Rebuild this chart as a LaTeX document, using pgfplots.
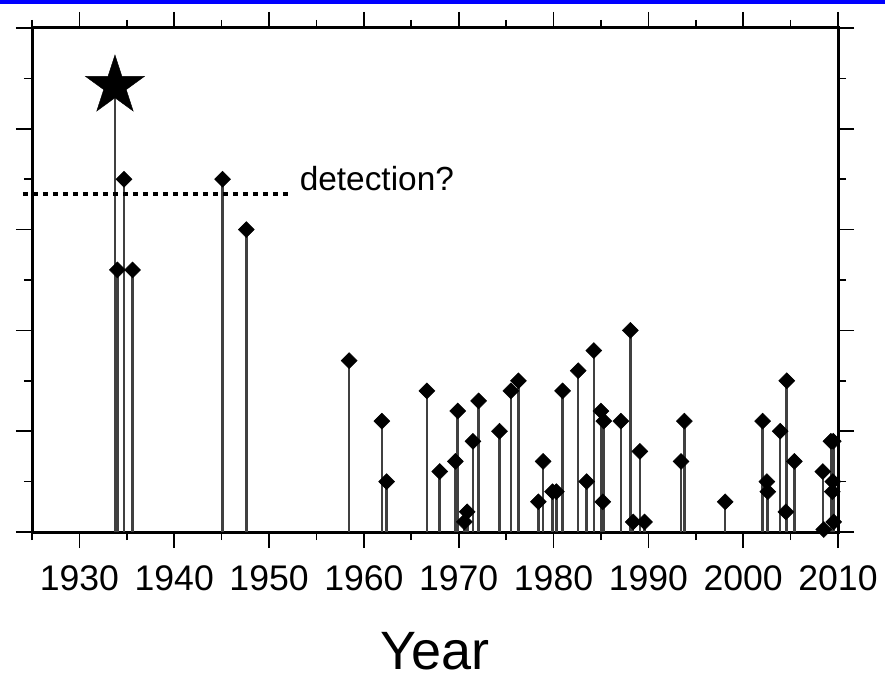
\documentclass[border=0pt]{standalone}
\usepackage{fontspec}
\setmainfont{Liberation Sans}
\usepackage{pgfplots}
\pgfplotsset{compat=1.18}

% filled five-pointed star for the big event
\pgfdeclareplotmark{bigstar}{%
  \pgfpathmoveto{\pgfpointpolar{90}{\pgfplotmarksize}}%
  \pgfpathlineto{\pgfpointpolar{126}{0.382\pgfplotmarksize}}%
  \pgfpathlineto{\pgfpointpolar{162}{\pgfplotmarksize}}%
  \pgfpathlineto{\pgfpointpolar{198}{0.382\pgfplotmarksize}}%
  \pgfpathlineto{\pgfpointpolar{234}{\pgfplotmarksize}}%
  \pgfpathlineto{\pgfpointpolar{270}{0.382\pgfplotmarksize}}%
  \pgfpathlineto{\pgfpointpolar{306}{\pgfplotmarksize}}%
  \pgfpathlineto{\pgfpointpolar{342}{0.382\pgfplotmarksize}}%
  \pgfpathlineto{\pgfpointpolar{18}{\pgfplotmarksize}}%
  \pgfpathlineto{\pgfpointpolar{54}{0.382\pgfplotmarksize}}%
  \pgfpathclose
  \pgfusepathqfillstroke}

\begin{document}
\begin{tikzpicture}
\useasboundingbox (0,0) rectangle (442.5bp,339bp);
\fill[blue] (0,337.1bp) rectangle (442.5bp,339bp);
\begin{axis}[
  at={(16bp,73bp)}, anchor=south west,
  scale only axis,
  width=403bp, height=252bp,
  xmin=1925, xmax=2010,
  ymin=0, ymax=10,
  xtick={1930,1940,...,2010},
  xticklabels={1930,1940,1950,1960,1970,1980,1990,2000,2010},
  minor xtick={1925,1935,...,2005},
  ytick={0,2,...,10},
  yticklabels={},
  minor ytick={1,3,...,9},
  tick align=outside,
  tick pos=both,
  major tick length=8bp,
  minor tick length=4bp,
  every tick/.style={black, line width=0.8bp},
  axis line style={line width=1.5bp},
  xticklabel style={font=\fontsize{17.8bp}{21bp}\selectfont, anchor=base, yshift=-21bp},
  xlabel={Year},
  xlabel style={font=\fontsize{27bp}{31bp}\selectfont, at={(axis description cs:0.5,0)}, anchor=base, yshift=-68.5bp},
  clip=false,
]

%% the star event
\addplot[ycomb, draw=black!75, line width=1.3bp, mark=bigstar, mark size=15.5bp,
  mark options={fill=black, draw=black, line width=0.2bp}]
  coordinates {(1933.75,8.85)};

%% other events
\addplot[ycomb, draw=black!75, line width=1.3bp, mark=square*, mark size=2.8bp,
  mark options={rotate=45, fill=black, draw=black, line width=0.3bp}]
  coordinates {
    (1934.0,5.2) (1934.7,7.0) (1935.6,5.2) (1945.1,7.0) (1947.6,6.0)
    (1958.45,3.4) (1961.9,2.2) (1962.4,1.0) (1966.65,2.8) (1968.0,1.2)
    (1969.65,1.4) (1969.9,2.4) (1970.6,0.2) (1970.9,0.4) (1971.5,1.8)
    (1972.1,2.6) (1974.3,2.0) (1975.5,2.8) (1976.3,3.0) (1978.4,0.6)
    (1978.9,1.4) (1979.9,0.8) (1980.3,0.8) (1980.95,2.8) (1982.6,3.2)
    (1983.5,1.0) (1984.25,3.6) (1985.0,2.4) (1985.2,0.6) (1985.3,2.2)
    (1987.1,2.2) (1988.1,4.0) (1988.4,0.2) (1989.1,1.6) (1989.6,0.2)
    (1993.45,1.4) (1993.8,2.2) (1998.1,0.6) (2002.05,2.2) (2002.5,1.0)
    (2002.6,0.8) (2003.9,2.0) (2004.5,0.4) (2004.6,3.0) (2005.4,1.4)
    (2008.4,1.2) (2008.5,0.05) (2009.25,1.8) (2009.5,1.8) (2009.45,1.0)
    (2009.4,0.8) (2009.55,0.2)
  };

%% detection threshold
\draw[line width=2bp, dash pattern=on 2.6bp off 2.4bp]
  (axis cs:1924.05,6.7) -- (axis cs:1952.39,6.7);
\node[anchor=base west, inner sep=0pt, font=\fontsize{16.7bp}{20bp}\selectfont]
  at (axis cs:1953.2,6.77) {detection?};

\end{axis}
\end{tikzpicture}
\end{document}
